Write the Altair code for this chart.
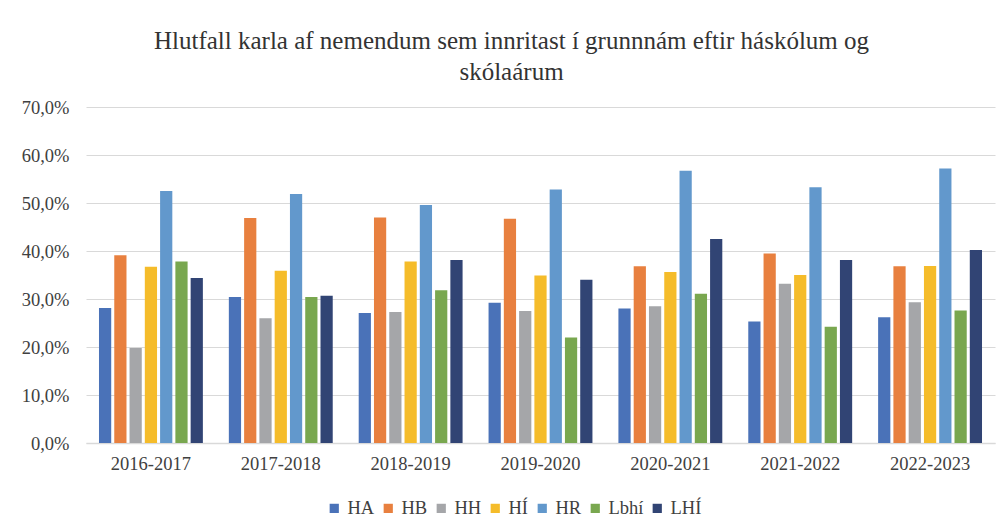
import altair as alt
import pandas as pd

years = ["2016-2017", "2017-2018", "2018-2019", "2019-2020", "2020-2021", "2021-2022", "2022-2023"]
schools = ["HA", "HB", "HH", "HÍ", "HR", "Lbhí", "LHÍ"]
colors = ["#4A72B8", "#E8803F", "#A5A6A9", "#F5BC2A", "#6298CC", "#79A74F", "#314474"]

HA   = [28.1, 30.4, 27.1, 29.2, 28.0, 25.3, 26.2]
HB   = [39.1, 46.9, 47.0, 46.7, 36.8, 39.5, 36.8]
HH   = [19.8, 26.0, 27.3, 27.5, 28.5, 33.2, 29.3]
HI   = [36.7, 35.9, 37.8, 34.9, 35.6, 35.0, 36.9]
HR   = [52.5, 51.9, 49.6, 52.8, 56.7, 53.3, 57.2]
LBHI = [37.8, 30.4, 31.8, 22.0, 31.1, 24.2, 27.6]
LHI  = [34.4, 30.7, 38.1, 34.0, 42.5, 38.1, 40.2]

y_ticks = [0, 0.1, 0.2, 0.3, 0.4, 0.5, 0.6, 0.7]

series = [HA, HB, HH, HI, HR, LBHI, LHI]
rows = []
for s, vals in zip(schools, series):
    for y, v in zip(years, vals):
        rows.append({"ar": y, "skoli": s, "hlutfall": v / 100.0})
df = pd.DataFrame(rows)

font = "Liberation Serif"
fs = 18.5

chart = alt.Chart(df).mark_bar().encode(
    x=alt.X("ar:N", sort=years, title=None,
            scale=alt.Scale(paddingInner=0.2, paddingOuter=0.1),
            axis=alt.Axis(labelAngle=0, labelFontSize=fs, labelFont=font,
                          labelColor="#404040", labelPadding=11, ticks=False,
                          domainColor="#D9D9D9", domainWidth=1.5, grid=False)),
    xOffset=alt.XOffset("skoli:N", sort=schools, scale=alt.Scale(paddingInner=0.2)),
    y=alt.Y("hlutfall:Q", title=None,
            scale=alt.Scale(domain=[0, 0.7], nice=False),
            axis=alt.Axis(values=y_ticks,
                          labelExpr="replace(format(datum.value, '.1%'), '.', ',')",
                          labelFontSize=fs, labelFont=font, labelColor="#404040",
                          labelPadding=17, ticks=False, domain=False,
                          gridColor="#D9D9D9", gridWidth=1)),
    color=alt.Color("skoli:N", sort=schools, title=None,
                    scale=alt.Scale(domain=schools, range=colors),
                    legend=alt.Legend(orient="none", direction="horizontal",
                                      legendX=239, legendY=392,
                                      symbolType="square", symbolSize=85,
                                      symbolStrokeWidth=0,
                                      labelFontSize=fs, labelFont=font,
                                      labelColor="#404040", labelOffset=4,
                                      columnPadding=4)),
).properties(
    width=909,
    height=336,
    title=alt.TitleParams(
        text=["Hlutfall karla af nemendum sem innritast í grunnnám eftir háskólum og",
              "skólaárum"],
        font=font, fontSize=25, fontWeight="normal", color="#333333",
        anchor="middle", dx=-29, offset=13, lineHeight=31),
    autosize=alt.AutoSizeParams(type="none"),
    padding={"left": 78, "top": 99, "right": 4, "bottom": 80},
).configure(
    background="white",
    view=alt.ViewConfig(stroke="transparent", strokeWidth=0, strokeOpacity=0),
    axisX=alt.AxisConfig(grid=False),
)

chart.save("out.html", embed_options={"renderer": "svg", "actions": False})
